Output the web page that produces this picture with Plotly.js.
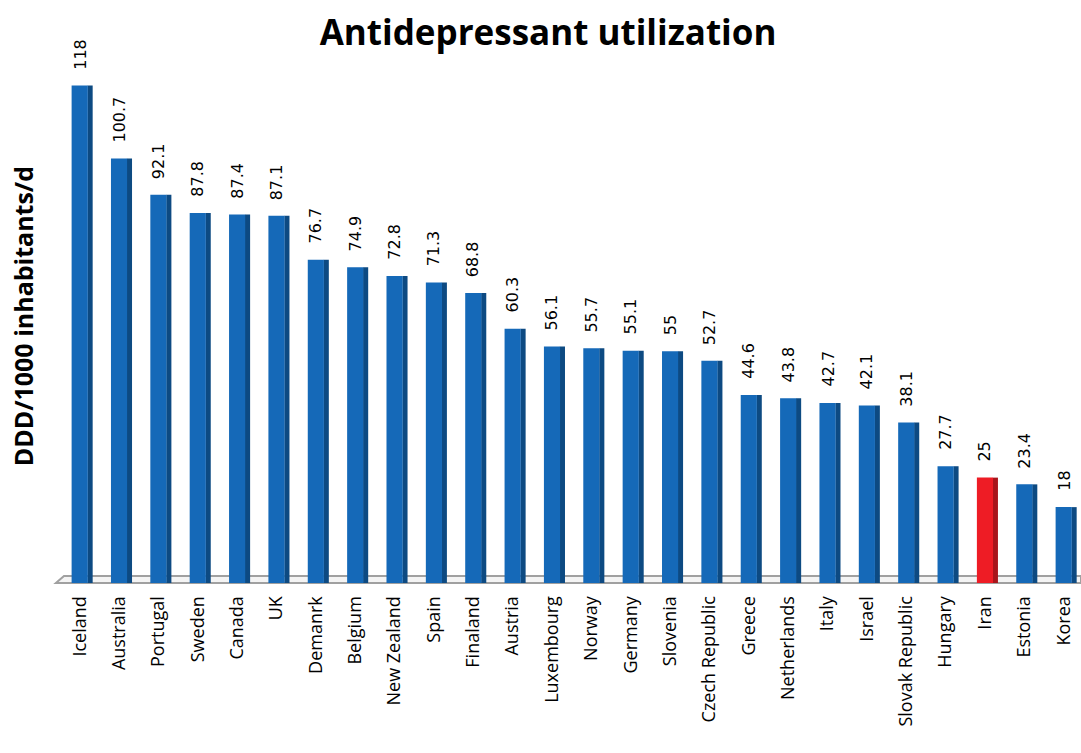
<!DOCTYPE html>
<html>
<head>
<meta charset="utf-8">
<script src="https://cdn.plot.ly/plotly-3.0.1.min.js"></script>
<style>html,body{margin:0;padding:0;background:#fff;}#chart{width:1081px;height:753px;}</style>
</head>
<body>
<div id="chart"></div>
<script>
const countries = ["Iceland","Australia","Portugal","Sweden","Canada","UK","Demanrk","Belgium","New Zealand","Spain","Finaland","Austria","Luxembourg","Norway","Germany","Slovenia","Czech Republic","Greece","Netherlands","Italy","Israel","Slovak Republic","Hungary","Iran","Estonia","Korea"];
const values = [118,100.7,92.1,87.8,87.4,87.1,76.7,74.9,72.8,71.3,68.8,60.3,56.1,55.7,55.1,55,52.7,44.6,43.8,42.7,42.1,38.1,27.7,25,23.4,18];
const valueLabels = ["118","100.7","92.1","87.8","87.4","87.1","76.7","74.9","72.8","71.3","68.8","60.3","56.1","55.7","55.1","55","52.7","44.6","43.8","42.7","42.1","38.1","27.7","25","23.4","18"];
const highlight = "Iran";

const frontColors = countries.map(c => c === highlight ? "#ee1c25" : "#1569b8");
const sideColors = countries.map(c => c === highlight ? "#a8151b" : "#0d4a82");
const xIdx = countries.map((c, i) => i);

const front = {
  type: "bar", x: xIdx, y: values, width: 0.41, offset: -0.205,
  marker: {color: frontColors, line: {width: 0}}, hoverinfo: "x+y"
};
const side = {
  type: "bar", x: xIdx, y: values, width: 0.13, offset: 0.2,
  marker: {color: sideColors, line: {width: 0}}, hoverinfo: "skip"
};

const annotations = values.map((v, i) => ({
  x: i, y: v, xref: "x", yref: "y", text: valueLabels[i], showarrow: false,
  textangle: -90, xanchor: "center", yanchor: "bottom", yshift: 14,
  font: {family: "DejaVu Sans", size: 16, color: "#000"}
}));
annotations.push({
  xref: "paper", yref: "paper", x: -0.036, y: 0.487, xanchor: "center", yanchor: "middle",
  text: "<b>DDD/1000 inhabitants/d</b>", showarrow: false, textangle: -90,
  font: {family: "Open Sans", size: 25, color: "#000"}
});

const layout = {
  width: 1081, height: 753,
  margin: {l: 60, r: 0, t: 35, b: 170},
  paper_bgcolor: "#fff", plot_bgcolor: "#fff",
  barmode: "overlay", showlegend: false,
  title: {text: "<b>Antidepressant utilization</b>", x: 0.507, xanchor: "center", y: 0.957, yanchor: "middle",
          font: {family: "Open Sans", size: 35, color: "#000"}},
  xaxis: {
    range: [-0.5, 25.44], tickmode: "array", tickvals: xIdx, ticktext: countries,
    tickangle: -90, tickfont: {family: "Open Sans", size: 18, color: "#000"},
    showgrid: false, zeroline: false, showline: false, ticks: "outside", ticklen: 5, tickcolor: "rgba(0,0,0,0)",
    automargin: false
  },
  yaxis: {
    range: [0, 130], showticklabels: false, showgrid: false, zeroline: false, showline: false, ticks: "",
    automargin: false
  },
  annotations: annotations,
  shapes: [{
    type: "path", xref: "paper", yref: "paper", layer: "below",
    path: "M -0.004 0 L 1.0 0 L 1.0 0.0128 L 0.0039 0.0128 Z",
    fillcolor: "#f4f4f4", line: {color: "#a0a0a0", width: 2}
  }]
};

Plotly.newPlot("chart", [side, front], layout, {displayModeBar: false, staticPlot: true});
</script>
</body>
</html>
